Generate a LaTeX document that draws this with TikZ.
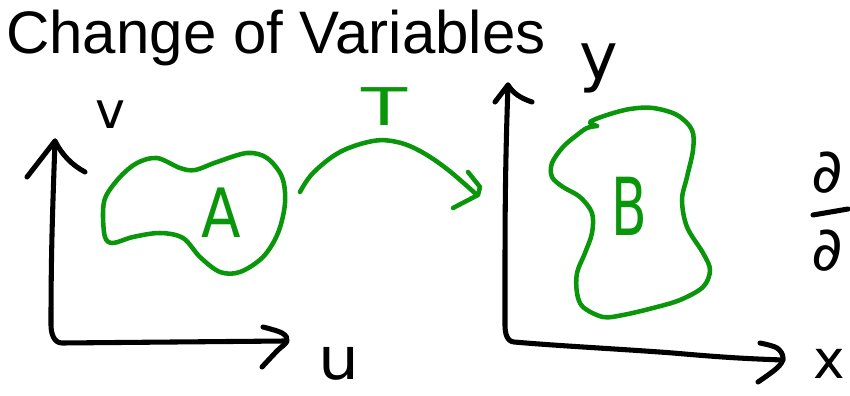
\documentclass[tikz,border=0pt]{standalone}
\usepackage{fontspec}
\setmainfont{Liberation Sans}
\newfontfamily\handfont{DejaVu Sans}
\definecolor{pen}{RGB}{10,150,10}
\begin{document}
\begin{tikzpicture}[x=0.75pt,y=-0.75pt,
  ink/.style={line width=3.8pt, line cap=round, line join=round},
  greenink/.style={ink, draw=pen, line width=3.4pt},
  lbl/.style={font=\handfont\fontsize{#1}{#1}\selectfont, inner sep=0pt, anchor=base},
  glbl/.style={lbl=#1, text=pen}]
\useasboundingbox (0,0) rectangle (850,396);

% title
\node[anchor=base west, inner sep=0pt, font=\fontsize{45}{54}\selectfont] (title) at (6,53) {Change of Variables};

% ---------- left axes (u,v) ----------
\coordinate (Lv) at (55,141);
\coordinate (Lu) at (285,341);
\draw[ink] (Lv) to[out=-92,in=90] (51,325) to[out=-90,in=180] (62,343) -- (Lu);
\draw[ink] (27,177) -- (Lv) .. controls (62,155) and (72,165) .. (85,172);
\draw[ink] plot[smooth, tension=0.6] coordinates {(263,327) (282,333) (287,341) (277,351) (262,367)};
\node[lbl=38] (v) at (110,128) {v};
\node[lbl=44, xscale=1.1] (u) at (339,379) {u};

% region A
\draw[greenink] plot[smooth cycle, tension=0.55] coordinates {
 (157,158) (180,168) (195,170) (217,162) (247,153) (267,158) (282,177) (285,203)
 (278,233) (263,257) (240,272) (220,272) (200,257) (183,238) (160,233) (133,237)
 (113,243) (105,237) (103,213) (106,196) (120,177) (137,163)};
\node[glbl=51, xscale=0.85] (A) at (221,237) {A};

% ---------- mapping T ----------
\coordinate (Ts) at (300,192);
\coordinate (Tt) at (477,195);
\draw[greenink] plot[smooth, tension=0.6] coordinates {(Ts) (313,173) (340,152) (373,141) (397,142) (420,151) (447,169) (Tt)};
\draw[greenink] (468,172) -- (480,187) -- (478,195) -- (453,208);
\node[glbl=39, xscale=1.45] (T) at (385,125) {T};

% ---------- right axes (x,y) ----------
\coordinate (Ry) at (508,85);
\coordinate (Rx) at (783,360);
\draw[ink] (Ry) to[out=-92,in=90] (505,325) to[out=-90,in=175] (514,342)
  .. controls (560,346) and (620,349) .. (673,353) to[out=-5,in=178] (Rx);
\draw[ink] (495,102) -- (Ry) .. controls (513,93) and (520,98) .. (532,102);
\draw[ink] plot[smooth, tension=0.6] coordinates {(760,343) (777,348) (783,358) (777,368) (758,382)};
\node[lbl=49] (y) at (599,79) {y};
\node[lbl=40] (x) at (829,378) {x};

% region B
\draw[greenink] plot[smooth, tension=0.55] coordinates {
 (597,126) (590,122) (607,115) (630,109) (653,108) (677,115) (692,130) (693,150)
 (687,177) (682,200) (687,227) (703,253) (710,270) (703,287) (680,300) (653,308)
 (623,315) (603,317) (583,307) (577,293) (577,273) (585,253) (592,233) (592,213)
 (580,197) (563,187) (552,177) (552,163) (563,147) (577,135) (587,128) (597,126)};
\node[glbl=60, xscale=0.65] (B) at (629,235) {B};

% ---------- Jacobian fraction at the right edge ----------
\node[lbl=46, anchor=base west] (num) at (811,192) {∂};
\coordinate (barL) at (813,215);
\coordinate (barR) at (848,209);
\draw[ink] (barL) -- (barR);
\node[lbl=46, anchor=north west] (den) at (811,230) {∂};
\end{tikzpicture}
\end{document}
